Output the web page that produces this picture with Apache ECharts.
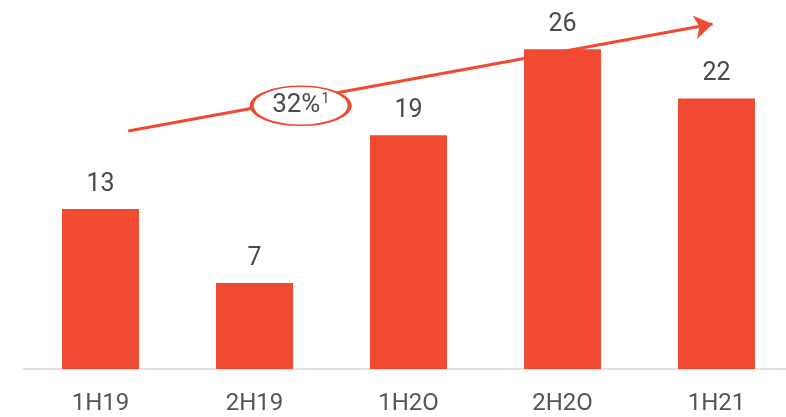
<!DOCTYPE html>
<html><head><meta charset="utf-8">
<script src="https://cdn.jsdelivr.net/npm/echarts@6/dist/echarts.min.js"></script>
<style>html,body{margin:0;padding:0;background:#fff}#c{width:786px;height:417px}</style>
</head><body><div id="c"></div>
<script>
const categories = ['1H19', '2H19', '1H2O', '2H2O', '1H21'];
const values = [13, 7, 19, 26, 22];
const growthLabel = '32%';
const growthNote = '1';
// trend arrow (start/end in [category position, value] space)
const arrowStart = [0.18, 19.35];
const arrowEnd = [3.975, 28.05];
const badgePos = [1.30, 21.4];

const RED = '#F14A32';
const TXT = '#4a4a4a';
const FONT = 'Roboto';

const chart = echarts.init(document.getElementById('c'), null, {renderer: 'canvas'});
chart.setOption({
  animation: false,
  grid: {left: 23.5, width: 770, top: 0, bottom: 48, containLabel: false, outerBoundsMode: 'none'},
  xAxis: [{
    type: 'category', data: categories,
    axisLine: {lineStyle: {color: '#d9d9d9', width: 1.5}},
    axisTick: {show: false},
    axisLabel: {color: '#555', fontSize: 24, fontFamily: FONT, margin: 23}
  }, {
    type: 'value', min: -0.5, max: 4.5, show: false
  }],
  yAxis: {type: 'value', min: 0, max: 30, show: false},
  series: [{
    type: 'bar', data: values, barWidth: '50%', xAxisIndex: 0,
    itemStyle: {color: RED},
    label: {show: true, position: 'top', distance: 12, color: TXT, fontSize: 25, fontFamily: FONT}
  }, {
    type: 'line', xAxisIndex: 1, data: [], silent: true,
    markLine: {
      silent: true, symbol: ['none', 'arrow'], symbolSize: [18, 18],
      lineStyle: {color: RED, width: 3, type: 'solid', opacity: 1},
      label: {show: false},
      data: [[{coord: arrowStart}, {coord: arrowEnd}]]
    }
  }, {
    type: 'scatter', xAxisIndex: 1, z: 5, silent: true,
    data: [badgePos], symbol: 'circle', symbolSize: [98, 39],
    itemStyle: {color: '#fff', borderColor: RED, borderWidth: 2.5, opacity: 1},
    label: {
      show: true, position: 'inside',
      formatter: '{a|' + growthLabel + '}{b|' + growthNote + '}',
      rich: {
        a: {fontSize: 26, color: TXT, fontFamily: FONT},
        b: {fontSize: 14, color: TXT, fontFamily: FONT, verticalAlign: 'top', padding: [0, 0, 10, 1]}
      }
    }
  }]
});
</script></body></html>
